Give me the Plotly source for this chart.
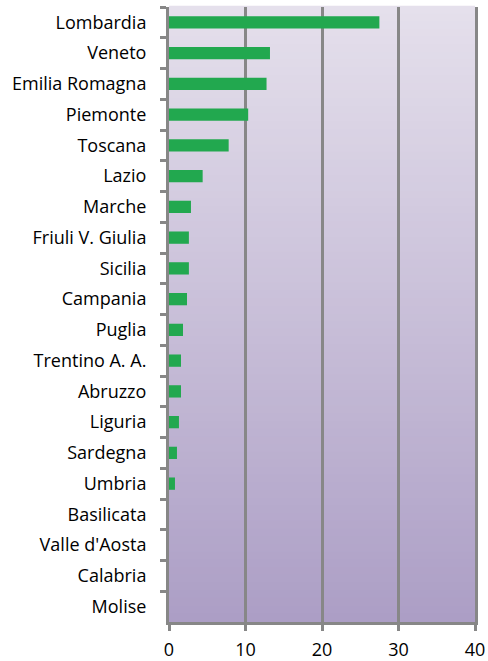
import plotly.graph_objects as go

# Dati: regioni (dall'alto verso il basso) e valori
regioni = ["Lombardia", "Veneto", "Emilia Romagna", "Piemonte", "Toscana", "Lazio",
           "Marche", "Friuli V. Giulia", "Sicilia", "Campania", "Puglia", "Trentino A. A.",
           "Abruzzo", "Liguria", "Sardegna", "Umbria", "Basilicata", "Valle d'Aosta",
           "Calabria", "Molise"]
valori = [27.5, 13.2, 12.75, 10.35, 7.8, 4.4,
          2.87, 2.6, 2.6, 2.35, 1.83, 1.57,
          1.57, 1.3, 1.04, 0.78, 0.0, 0.0,
          0.0, 0.0]
tick_x = [0, 10, 20, 30, 40]

GRIGIO = "#878787"

fig = go.Figure()
fig.add_trace(go.Bar(x=valori, y=regioni, orientation="h",
                     marker=dict(color="#22a84f", line=dict(width=0)),
                     width=0.4, showlegend=False))

# sfondo sfumato (strisce orizzontali sotto la griglia)
n = 80
top = (229, 224, 236)
bot = (172, 158, 197)
shapes = []
for i in range(n):
    t = (i + 0.5) / n
    c = tuple(round(top[k] + (bot[k] - top[k]) * t) for k in range(3))
    shapes.append(dict(type="rect", xref="x domain", yref="y domain",
                       x0=0, x1=1, y0=1 - (i + 1) / n, y1=1 - i / n + 0.002,
                       fillcolor="rgb(%d,%d,%d)" % c, line=dict(width=0),
                       layer="below"))

fig.update_layout(
    width=488, height=661,
    margin=dict(l=169, r=13, t=7, b=39, autoexpand=False),
    paper_bgcolor="white",
    plot_bgcolor="rgba(0,0,0,0)",
    font=dict(family="Open Sans, sans-serif", size=18, color="black"),
    shapes=shapes,
    xaxis=dict(range=[0, 40], tickvals=tick_x, showgrid=True, gridcolor=GRIGIO,
               gridwidth=3, zeroline=False, showline=True, linecolor=GRIGIO,
               linewidth=3, ticks="outside", ticklen=6, tickwidth=3,
               tickcolor=GRIGIO, ticklabelstandoff=3, automargin=False,
               ticklabeloverflow="allow"),
    yaxis=dict(autorange="reversed", showgrid=False, zeroline=False,
               showline=True, mirror=True, linecolor=GRIGIO, linewidth=3,
               ticks="outside", ticklen=6, tickwidth=3, tickcolor=GRIGIO,
               tickson="boundaries", ticklabelstandoff=16, automargin=False),
)

# niente margine della pagina, così la figura riempie esattamente la finestra
fig.write_html("out.html", config={"displayModeBar": False},
               post_script="document.body.style.margin='0';")
